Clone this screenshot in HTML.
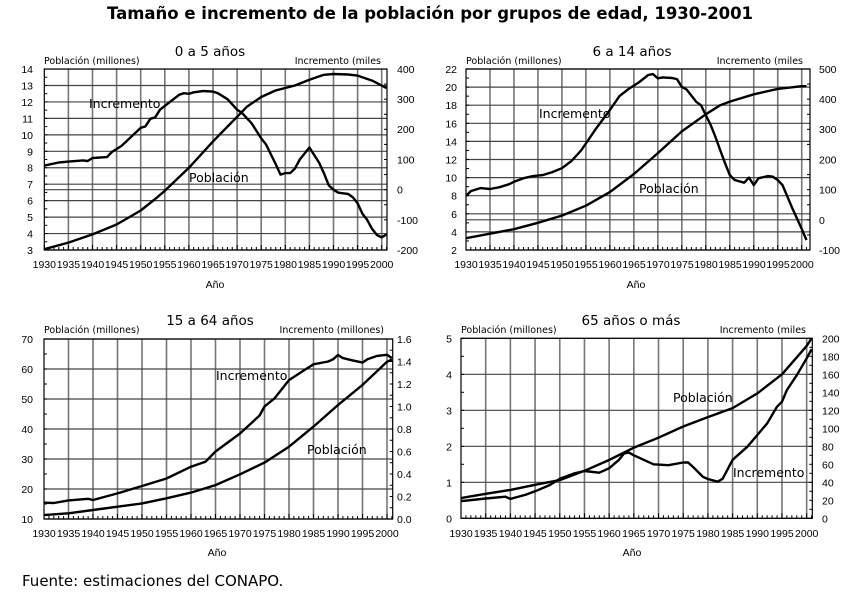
<!DOCTYPE html>
<html><head><meta charset="utf-8"><style>
body{margin:0;background:#fff;width:867px;height:613px;overflow:hidden}
svg{display:block}
text{font-family:"DejaVu Sans","Liberation Sans",sans-serif;fill:#000}
.tk,.tk text{font-size:10.5px;font-family:"Liberation Sans",sans-serif}
.h{font-size:9.5px}
.t{font-size:13.5px}
.s{font-size:12.5px}
</style></head><body>
<svg id="s" width="867" height="613" viewBox="0 0 867 613">
<text x="430" y="19" text-anchor="middle" style="font-size:16.5px;font-weight:bold">Tamaño e incremento de la población por grupos de edad, 1930-2001</text>
<text x="22" y="586" style="font-size:15px">Fuente: estimaciones del CONAPO.</text>
<g id="grid"></g>
<!-- Chart 1 -->
<text class="t" x="210" y="56" text-anchor="middle">0 a 5 años</text>
<text class="h" x="44" y="64">Población (millones)</text>
<text class="h" x="381" y="64" text-anchor="end">Incremento (miles</text>
<g class="tk" text-anchor="end">
<text x="33" y="254">3</text><text x="33" y="237.5">4</text><text x="33" y="221">5</text><text x="33" y="204.6">6</text><text x="33" y="188.2">7</text><text x="33" y="171.7">8</text><text x="33" y="155.3">9</text><text x="33" y="138.8">10</text><text x="33" y="122.4">11</text><text x="33" y="105.9">12</text><text x="33" y="89.5">13</text><text x="33" y="73">14</text>
</g>
<g class="tk">
<text x="397" y="73">400</text><text x="397" y="103">300</text><text x="397" y="133">200</text><text x="397" y="163.5">100</text><text x="397" y="193.7">0</text><text x="397" y="224">-100</text><text x="397" y="254">-200</text>
</g>
<text class="s" x="89" y="108">Incremento</text>
<text class="s" x="189" y="182">Población</text>
<text class="tk" x="215" y="288" text-anchor="middle">Año</text>
<!-- Chart 2 -->
<text class="t" x="632" y="56" text-anchor="middle">6 a 14 años</text>
<text class="h" x="466" y="64">Población (millones)</text>
<text class="h" x="803" y="64" text-anchor="end">Incremento (miles</text>
<g class="tk" text-anchor="end">
<text x="457" y="254">2</text><text x="457" y="236">4</text><text x="457" y="218">6</text><text x="457" y="199.7">8</text><text x="457" y="181.6">10</text><text x="457" y="163.5">12</text><text x="457" y="145.4">14</text><text x="457" y="127.3">16</text><text x="457" y="109.2">18</text><text x="457" y="91.1">20</text><text x="457" y="73">22</text>
</g>
<g class="tk">
<text x="819" y="73">500</text><text x="819" y="103">400</text><text x="819" y="133">300</text><text x="819" y="163.5">200</text><text x="819" y="193.7">100</text><text x="819" y="224">0</text><text x="819" y="254">-100</text>
</g>
<text class="s" x="539" y="118">Incremento</text>
<text class="s" x="639" y="193">Población</text>
<text class="tk" x="636" y="288" text-anchor="middle">Año</text>
<!-- Chart 3 -->
<text class="t" x="210" y="325" text-anchor="middle">15 a 64 años</text>
<text class="h" x="44" y="333">Población (millones)</text>
<text class="h" x="384" y="333" text-anchor="end">Incremento (millones)</text>
<g class="tk" text-anchor="end">
<text x="33" y="523">10</text><text x="33" y="493">20</text><text x="33" y="463">30</text><text x="33" y="433">40</text><text x="33" y="403">50</text><text x="33" y="373">60</text><text x="33" y="343">70</text>
</g>
<g class="tk">
<text x="397" y="523">0.0</text><text x="397" y="500.5">0.2</text><text x="397" y="478">0.4</text><text x="397" y="455.5">0.6</text><text x="397" y="433">0.8</text><text x="397" y="410.5">1.0</text><text x="397" y="388">1.2</text><text x="397" y="365.5">1.4</text><text x="397" y="343">1.6</text>
</g>
<text class="s" x="216" y="380">Incremento</text>
<text class="s" x="307" y="454">Población</text>
<text class="tk" x="217" y="556" text-anchor="middle">Año</text>
<!-- Chart 4 -->
<text class="t" x="631" y="325" text-anchor="middle">65 años o más</text>
<text class="h" x="461" y="333">Población (millones)</text>
<text class="h" x="806" y="333" text-anchor="end">Incremento (miles</text>
<g class="tk" text-anchor="end">
<text x="452" y="522.3">0</text><text x="452" y="486.3">1</text><text x="452" y="450.3">2</text><text x="452" y="414.3">3</text><text x="452" y="378.3">4</text><text x="452" y="342.3">5</text>
</g>
<g class="tk">
<text x="822" y="522.3">0</text><text x="822" y="504.3">20</text><text x="822" y="486.3">40</text><text x="822" y="468.3">60</text><text x="822" y="450.3">80</text><text x="822" y="432.3">100</text><text x="822" y="414.3">120</text><text x="822" y="396.3">140</text><text x="822" y="378.3">160</text><text x="822" y="360.3">180</text><text x="822" y="342.3">200</text>
</g>
<text class="s" x="673" y="402">Población</text>
<text class="s" x="733" y="477">Incremento</text>
<text class="tk" x="632" y="556" text-anchor="middle">Año</text>
<!-- year labels -->
<g class="tk" text-anchor="middle">
<text x="44.3" y="268">1930</text><text x="68.4" y="268">1935</text><text x="92.5" y="268">1940</text><text x="116.6" y="268">1945</text><text x="140.7" y="268">1950</text><text x="164.8" y="268">1955</text><text x="188.9" y="268">1960</text><text x="213" y="268">1965</text><text x="237.1" y="268">1970</text><text x="261.2" y="268">1975</text><text x="285.3" y="268">1980</text><text x="309.4" y="268">1985</text><text x="333.5" y="268">1990</text><text x="357.6" y="268">1995</text><text x="381.7" y="268">2000</text>
<text x="466" y="268">1930</text><text x="490" y="268">1935</text><text x="514" y="268">1940</text><text x="538" y="268">1945</text><text x="562" y="268">1950</text><text x="586" y="268">1955</text><text x="610" y="268">1960</text><text x="634" y="268">1965</text><text x="658" y="268">1970</text><text x="682" y="268">1975</text><text x="706" y="268">1980</text><text x="730" y="268">1985</text><text x="754" y="268">1990</text><text x="778" y="268">1995</text><text x="802" y="268">2000</text>
<text x="44" y="537">1930</text><text x="68.5" y="537">1935</text><text x="93" y="537">1940</text><text x="117.5" y="537">1945</text><text x="142" y="537">1950</text><text x="166.5" y="537">1955</text><text x="191" y="537">1960</text><text x="215.5" y="537">1965</text><text x="240" y="537">1970</text><text x="264.5" y="537">1975</text><text x="289" y="537">1980</text><text x="313.5" y="537">1985</text><text x="338" y="537">1990</text><text x="362.5" y="537">1995</text><text x="387" y="537">2000</text>
<text x="461" y="537">1930</text><text x="485.7" y="537">1935</text><text x="510.4" y="537">1940</text><text x="535.1" y="537">1945</text><text x="559.8" y="537">1950</text><text x="584.5" y="537">1955</text><text x="609.1" y="537">1960</text><text x="633.8" y="537">1965</text><text x="658.5" y="537">1970</text><text x="683.2" y="537">1975</text><text x="707.9" y="537">1980</text><text x="732.6" y="537">1985</text><text x="757.3" y="537">1990</text><text x="782" y="537">1995</text><text x="806.7" y="537">2000</text>
</g>
<g id="lines"></g>
</svg>
<script>
var NS="http://www.w3.org/2000/svg",G=document.getElementById('grid'),L=document.getElementById('lines');
function el(p,t,a){var e=document.createElementNS(NS,t);for(var k in a)e.setAttribute(k,a[k]);p.appendChild(e);return e}
function chart(c){
 var X=function(yr){return c.x0+(yr-1930)*c.dx};
 for(var yr=1935;yr<=2000;yr+=5)el(G,'line',{x1:X(yr),x2:X(yr),y1:c.top,y2:c.bot,stroke:'#777','stroke-width':1.6});
 c.hl.forEach(function(y){el(G,'line',{x1:c.x0,x2:c.xr,y1:y,y2:y,stroke:'#444','stroke-width':1.2})});
 el(G,'rect',{x:c.x0,y:c.top,width:c.xr-c.x0,height:c.bot-c.top,fill:'none',stroke:'#000','stroke-width':1.2});
 for(var yr=1930;yr<=2001;yr++){var x=X(yr);el(G,'line',{x1:x,x2:x,y1:c.bot,y2:c.bot-(yr%5?3:5),stroke:'#000','stroke-width':1});}
 for(var i=0;i<=c.nl;i++){var y=c.top+(c.bot-c.top)*i/c.nl;el(G,'line',{x1:c.x0,x2:c.x0+3,y1:y,y2:y,stroke:'#000'});}
 for(var i=0;i<=c.nr;i++){var y=c.top+(c.bot-c.top)*i/c.nr;el(G,'line',{x1:c.xr,x2:c.xr-3,y1:y,y2:y,stroke:'#000'});}
 [[c.pop,c.yl],[c.inc,c.yr]].forEach(function(s){
  var pts=[];for(var i=0;i<s[0].length;i+=2)pts.push(X(s[0][i]).toFixed(1)+','+s[1](s[0][i+1]).toFixed(1));
  el(L,'polyline',{points:pts.join(' '),fill:'none',stroke:'#000','stroke-width':2.4,'stroke-linejoin':'round'});
 });
}
var h1=[];for(var v=3;v<=14;v++)h1.push(250-(v-3)*16.45);h1.push(189.7);
chart({x0:44.3,dx:4.82,xr:387,top:69,bot:250,hl:h1,nl:22,nr:12,
 yl:function(v){return 250-(v-3)*16.45},yr:function(v){return 189.7-v*0.3017},
 pop:[1930,3.05,1935,3.45,1940,3.95,1945,4.55,1950,5.4,1953,6.1,1955,6.6,1960,8.0,1965,9.6,1970,11.1,1972,11.7,1975,12.3,1978,12.7,1980,12.85,1982,13.0,1985,13.35,1988,13.65,1990,13.7,1993,13.67,1995,13.6,1998,13.3,2001,12.85],
 inc:[1930,80,1933,90,1935,93,1938,97,1939,95,1940,105,1943,108,1944,125,1946,145,1948,175,1950,205,1951,210,1952,235,1953,240,1954,265,1956,290,1958,315,1959,320,1960,318,1961,323,1963,327,1965,325,1966,320,1968,300,1970,265,1971,255,1973,220,1975,170,1976,150,1978,85,1979,50,1980,55,1981,55,1982,70,1983,100,1984,120,1985,140,1986,115,1987,90,1988,55,1989,15,1990,0,1991,-10,1992,-12,1993,-14,1994,-25,1995,-45,1996,-80,1997,-100,1998,-130,1999,-150,2000,-158,2001,-148]});
var h2=[];for(var v=2;v<=22;v+=2)h2.push(250-(v-2)*9.05);h2.push(219.8);
chart({x0:466,dx:4.796,xr:810,top:69,bot:250,hl:h2,nl:20,nr:12,
 yl:function(v){return 250-(v-2)*9.05},yr:function(v){return 219.8-v*0.3017},
 pop:[1930,3.3,1935,3.8,1940,4.3,1945,5.0,1950,5.8,1955,6.9,1960,8.4,1965,10.4,1970,12.7,1975,15.1,1980,17.0,1983,18.0,1985,18.4,1990,19.2,1995,19.8,2000,20.1,2001,20.1],
 inc:[1930,79,1931,95,1933,105,1935,102,1937,108,1939,118,1940,126,1942,138,1944,145,1946,148,1948,158,1950,171,1952,195,1954,230,1955,253,1957,300,1960,364,1962,410,1964,435,1966,455,1968,480,1969,483,1970,469,1971,472,1973,470,1974,466,1975,441,1976,432,1978,391,1979,380,1980,347,1981,315,1982,275,1983,231,1984,188,1985,148,1986,132,1988,123,1989,140,1990,115,1991,138,1993,145,1994,143,1995,132,1996,115,1998,40,2000,-30,2001,-67]});
var h3=[];for(var v=10;v<=70;v+=10)h3.push(519-(v-10)*3);
chart({x0:44,dx:4.9,xr:392.7,top:339,bot:519,hl:h3,nl:12,nr:16,
 yl:function(v){return 519-(v-10)*3},yr:function(v){return 519-v*112.5},
 pop:[1930,11.3,1935,11.9,1940,13,1945,14.1,1950,15.2,1955,16.9,1960,18.8,1965,21.3,1970,24.9,1975,28.8,1980,34.1,1985,40.8,1990,48,1995,54.7,2000,62.4,2001,63.2],
 inc:[1930,0.145,1932,0.142,1935,0.165,1939,0.18,1940,0.169,1945,0.228,1950,0.293,1955,0.36,1960,0.465,1963,0.51,1965,0.6,1970,0.76,1974,0.92,1975,1.0,1977,1.07,1980,1.235,1983,1.32,1985,1.375,1988,1.4,1989,1.42,1990,1.458,1991,1.43,1993,1.41,1995,1.39,1996,1.42,1998,1.45,2000,1.46,2001,1.43]});
var h4=[];for(var v=0;v<=5;v++)h4.push(518.3-v*36);
chart({x0:461,dx:4.938,xr:812.3,top:338.3,bot:518.3,hl:h4,nl:10,nr:20,
 yl:function(v){return 518.3-v*36},yr:function(v){return 518.3-v*0.9},
 pop:[1930,0.56,1935,0.68,1940,0.79,1945,0.93,1950,1.06,1955,1.32,1960,1.62,1965,1.96,1970,2.24,1975,2.55,1980,2.81,1985,3.06,1990,3.47,1995,4.0,2000,4.79,2001,5.0],
 inc:[1930,19,1935,22,1939,24,1940,21.5,1943,26,1945,30,1948,37,1950,44,1953,50,1955,52.6,1958,50.7,1960,55.6,1962,65,1963,72,1964,73,1965,70,1967,65,1969,60,1972,59,1975,62,1976,62,1977,57,1979,46,1980,43.7,1982,40.7,1983,44,1985,65,1988,79.6,1990,92.6,1992,105.6,1994,124,1995,129.6,1996,142.6,1998,159,2000,177.8,2001,187.8]});
</script>
</body></html>
